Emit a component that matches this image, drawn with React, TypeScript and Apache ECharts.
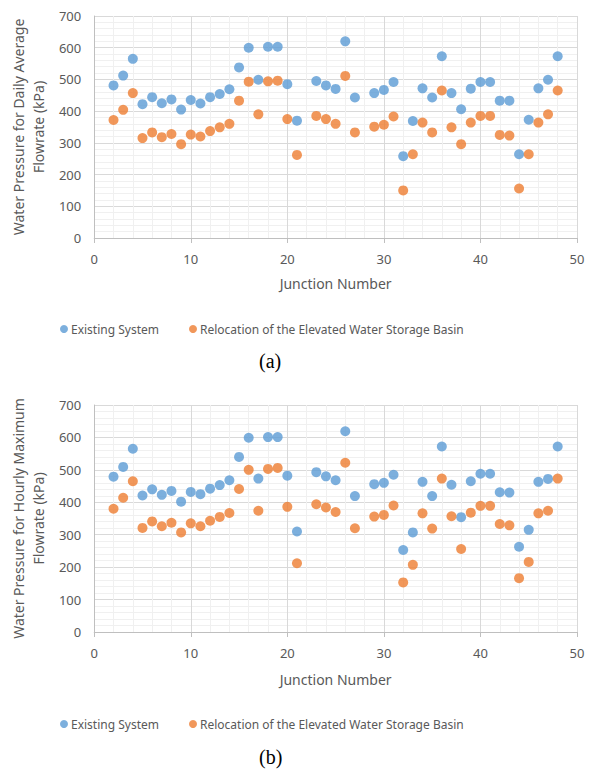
import React, { useEffect, useRef } from "react";
import * as echarts from "echarts";

const junctions = [2,3,4,5,6,7,8,9,10,11,12,13,14,15,16,17,18,19,20,21,23,24,25,26,27,29,30,31,32,33,34,35,36,37,38,39,40,41,42,43,44,45,46,47,48];

const dailyExisting = [481,512,565,422,444,425,437,405,435,424,444,454,469,538,600,499,603,603,485,370,495,481,470,620,443,457,467,492,258,369,472,443,573,457,406,471,492,492,433,433,264,373,472,499,573];
const dailyRelocation = [372,404,457,315,333,318,328,296,326,320,337,349,360,433,493,390,494,496,375,262,385,375,360,511,333,351,357,383,150,264,364,333,465,349,296,364,385,385,325,323,156,264,364,390,465];

const hourlyExisting = [479,509,565,421,440,423,435,402,432,425,442,453,468,540,599,473,601,601,482,310,493,480,468,619,419,456,460,485,253,307,463,419,572,454,354,465,488,488,431,430,263,315,463,472,572];
const hourlyRelocation = [380,414,465,321,341,326,337,307,335,326,343,355,367,441,500,374,503,506,386,212,394,384,370,522,320,356,361,390,153,207,366,319,473,357,256,368,389,389,333,329,166,216,366,374,473];

const seriesNames = ["Existing System", "Relocation of the Elevated Water Storage Basin"];
const yTitles = ["Water Pressure for Daily Average\nFlowrate (kPa)", "Water Pressure for Hourly Maximum\nFlowrate (kPa)"];
const captions = ["(a)", "(b)"];

const BLUE = "#5b9bd5";
const ORANGE = "#ed7d31";
const FONT = "Noto Sans";
const TXT = "#595959";

function pairs(xs: number[], ys: number[]) {
  return xs.map((x, i) => [x, ys[i]]);
}

function xAxis(gridIndex: number, gap: number) {
  return {
    type: "value",
    gridIndex,
    min: 0,
    max: 50,
    interval: 10,
    name: "Junction Number",
    nameLocation: "middle",
    nameGap: gap,
    nameTextStyle: { color: TXT, fontFamily: FONT, fontSize: 14 },
    axisLine: { show: true, lineStyle: { color: "#bfbfbf" } },
    axisTick: { show: true, length: 5, lineStyle: { color: "#bfbfbf" } },
    axisLabel: { color: TXT, fontFamily: FONT, fontSize: 13, margin: 14 },
    splitLine: { show: true, lineStyle: { color: "#d9d9d9" } },
    minorTick: { show: false, splitNumber: 5 },
    minorSplitLine: { show: true, lineStyle: { color: "#f0f0f0" } },
  };
}

function yAxis(gridIndex: number, title: string) {
  return {
    type: "value",
    gridIndex,
    min: 0,
    max: 700,
    interval: 100,
    name: title,
    nameLocation: "middle",
    nameGap: 46,
    nameTextStyle: { color: TXT, fontFamily: FONT, fontSize: 14, lineHeight: 20 },
    axisLine: { show: true, lineStyle: { color: "#bfbfbf" } },
    axisTick: { show: false },
    axisLabel: { color: TXT, fontFamily: FONT, fontSize: 13, margin: 13 },
    splitLine: { show: true, lineStyle: { color: "#d9d9d9" } },
    minorTick: { show: false, splitNumber: 5 },
    minorSplitLine: { show: true, lineStyle: { color: "#f0f0f0" } },
  };
}

function scatter(name: string, idx: number, color: string, data: number[][]) {
  return {
    type: "scatter",
    name,
    xAxisIndex: idx,
    yAxisIndex: idx,
    symbol: "circle",
    symbolSize: 10,
    itemStyle: { color },
    data,
  };
}

function legend(top: number) {
  return {
    top,
    left: 55,
    itemWidth: 8,
    itemHeight: 8,
    itemGap: 30,
    icon: "circle",
    textStyle: { color: TXT, fontFamily: FONT, fontSize: 12, padding: [0, 0, 0, -2] },
    data: seriesNames,
    selectedMode: false,
  };
}

export default function App() {
  const ref = useRef<HTMLDivElement>(null);
  useEffect(() => {
    if (!ref.current) return;
    const chart = echarts.init(ref.current, null, { renderer: "svg" });
    chart.setOption({
      animation: false,
      backgroundColor: "#ffffff",
      grid: [
        { left: 89.5, right: 12, top: 16, height: 222 },
        { left: 89.5, right: 12, top: 405, height: 227 },
      ],
      xAxis: [xAxis(0, 38), xAxis(1, 40)],
      yAxis: [yAxis(0, yTitles[0]), yAxis(1, yTitles[1])],
      legend: [legend(318), legend(713)],
      series: [
        scatter(seriesNames[0], 0, BLUE, pairs(junctions, dailyExisting)),
        scatter(seriesNames[1], 0, ORANGE, pairs(junctions, dailyRelocation)),
        scatter(seriesNames[0], 1, BLUE, pairs(junctions, hourlyExisting)),
        scatter(seriesNames[1], 1, ORANGE, pairs(junctions, hourlyRelocation)),
      ],
      graphic: [
        { type: "text", left: 259, top: 351, style: { text: captions[0], fill: "#000", font: "20px 'Liberation Serif'" } },
        { type: "text", left: 259, top: 747, style: { text: captions[1], fill: "#000", font: "20px 'Liberation Serif'" } },
      ],
    });
    return () => chart.dispose();
  }, []);
  return <div ref={ref} style={{ position: "absolute", left: 0, top: 0, width: 589, height: 774 }} />;
}
